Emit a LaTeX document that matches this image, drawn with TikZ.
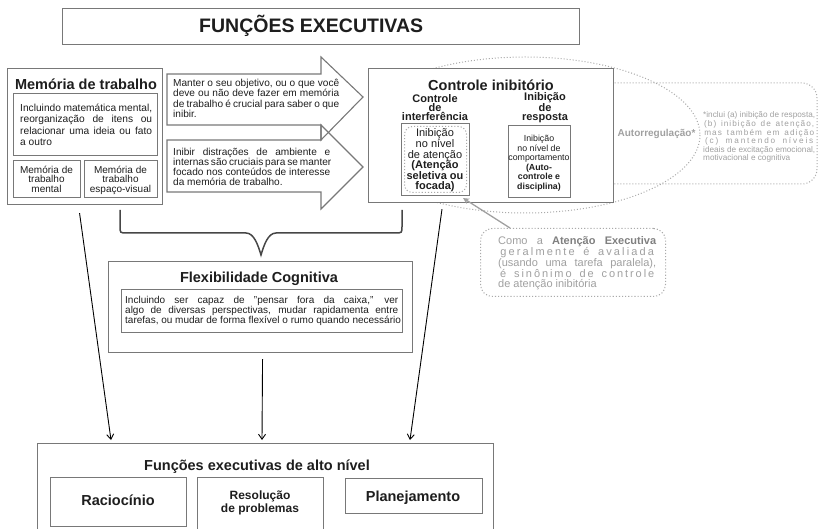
\documentclass[tikz,border=0pt]{standalone}
\usepackage{fontspec}
\setmainfont{Liberation Sans}
\usetikzlibrary{arrows.meta,calc}
\definecolor{boxgray}{RGB}{120,120,120}
\definecolor{txt}{RGB}{30,30,30}
\definecolor{ltxt}{RGB}{160,160,160}
\definecolor{dotc}{RGB}{170,170,170}
\definecolor{bracec}{RGB}{70,70,70}
\newcommand\fs[2]{\fontsize{#1}{#2}\selectfont}
\newcommand\jl[2]{\makebox[#1][s]{#2}}
\ExplSyntaxOn
\NewDocumentCommand\spr{mm}
 {
  \seq_set_split:Nnn \l_tmpa_seq {~} {#2}
  \makebox[#1]{
    \bool_set_false:N \l_tmpa_bool
    \seq_map_inline:Nn \l_tmpa_seq
     {
      \bool_if:NT \l_tmpa_bool {\hspace{0.2em~plus~3fil}}
      \bool_set_false:N \l_tmpb_bool
      \tl_map_inline:nn {##1}
       { \bool_if:NT \l_tmpb_bool {\hspace{0pt~plus~1fil}} \bool_set_true:N \l_tmpb_bool ####1 }
      \bool_set_true:N \l_tmpa_bool
     }
  }
 }
\ExplSyntaxOff
\begin{document}
\begin{tikzpicture}[x=1pt,y=-1pt,
 bx/.style={draw=boxgray,line width=1.1pt,fill=white,inner sep=0pt,anchor=north west},
 tx/.style={inner sep=0pt,text=txt,align=center,anchor=base},
 txl/.style={inner sep=0pt,text=txt,align=left,anchor=base west},
 arr/.style={-{Straight Barb[length=5pt,width=7pt]},line width=0.9pt,black},
 dots/.style={draw=dotc,line width=1pt,dotted},
 blockarrow/.style={draw=boxgray,line width=1.1pt},
]
\useasboundingbox (0,0) rectangle (819,529);
\clip (0,0) rectangle (819,529);

% title
\node[bx,minimum width=517pt,minimum height=36pt] (title) at (62,8) {};

% working memory
\node[bx,minimum width=155pt,minimum height=136pt] (mem) at (7,68) {};
\node[bx,minimum width=144pt,minimum height=62pt] (memtxt) at (13,93) {};
\node[bx,minimum width=67pt,minimum height=37pt] (memA) at (13,160) {};
\node[bx,minimum width=73pt,minimum height=37pt] (memB) at (84,160) {};

% block arrows
\draw[blockarrow] (167,74) -- (321,74) -- (321,57) -- (363,97) -- (321,140) -- (321,125) -- (167,125) -- cycle;
\draw[blockarrow] (167,140) -- (321,140) -- (321,125) -- (363,167) -- (321,209) -- (321,192) -- (167,192) -- cycle;

% self-regulation dotted shapes
\begin{scope}
\clip (420,0) rectangle (819,529);
\draw[dots] (525,135) ellipse [x radius=175, y radius=78];
\end{scope}
\draw[dots,rounded corners=15pt] (595,83) rectangle (817,184);

% inhibitory control
\node[bx,minimum width=245pt,minimum height=134pt] (ctrl) at (368,68) {};
\node[bx,minimum width=68pt,minimum height=72pt] (ctrlA) at (401,123) {};
\node[bx,draw=dotc,dotted,line width=1pt,rounded corners=8pt,minimum width=62pt,minimum height=66pt] (ctrlAi) at (404,126) {};
\node[bx,minimum width=62pt,minimum height=72pt] (ctrlB) at (508,125) {};

% executive attention note
\node[bx,draw=dotc,dotted,line width=1pt,rounded corners=12pt,minimum width=185pt,minimum height=68pt] (como) at (480,228) {};
\coordinate (gaS) at ($(como.north west)+(30,0)$);
\coordinate (gaE) at ($(ctrlA.south east)+(-7,2)$);
\draw[draw=ltxt,line width=1.3pt,-{Stealth[length=6pt,width=6pt]}] (gaS) -- (gaE);

% brace
\draw[bracec,line width=1.5pt] (120,210) -- (120,226) .. controls (120,233) .. (127,233) -- (246,233)
  .. controls (254,233) and (258,245) .. (261,255) .. controls (264,245) and (268,233) .. (276,233)
  -- (395,233) .. controls (402,233) .. (402,226) -- (402,210);

% cognitive flexibility
\node[bx,minimum width=304pt,minimum height=91pt] (flex) at (108,261) {};
\node[bx,minimum width=281pt,minimum height=43pt] (flextxt) at (121,289) {};

% higher level
\node[bx,minimum width=456pt,minimum height=110pt] (bot) at (37,443) {};
\node[bx,minimum width=136pt,minimum height=49pt] (racio) at (50,477) {};
\node[bx,minimum width=126pt,minimum height=70pt] (resol) at (197,477) {};
\node[bx,minimum width=137pt,minimum height=35pt] (plan) at (345,478) {};

% black arrows
\coordinate (a1s) at ($(mem.south)+(-5.5,8)$);
\coordinate (a1e) at ($(bot.north west)+(74,-3)$);
\coordinate (a2s) at ($(flex.south)+(2,6)$);
\coordinate (a2e) at ($(bot.north west)+(225,-3)$);
\coordinate (a3s) at ($(ctrl.south west)+(74,6)$);
\coordinate (a3e) at ($(bot.north west)+(373,-3)$);
\draw[arr] (a1s) -- (a1e);
\draw[arr] (a2s) -- (a2e);
\draw[arr] (a3s) -- (a3e);

% ---------- texts (multi-line nodes anchored at last baseline) ----------
\node[txl,font=\bfseries\fs{19.5}{22}] (tTitle) at (199,33) {FUNÇÕES EXECUTIVAS};

\node[tx,font=\bfseries\fs{14.5}{16}] (tMem) at (86,90) {Memória de trabalho};
\node[txl,font=\fs{10.2}{11.3}] (tMemTxt) at (20,145.4) {\jl{132pt}{Incluindo matemática mental,}\\\jl{132pt}{reorganização de itens ou}\\\jl{132pt}{relacionar uma ideia ou fato}\\a outro};
\node[tx,font=\fs{10}{9.3}] (tMemA) at (46.5,192.1) {Memória de\\trabalho\\mental};
\node[tx,font=\fs{10}{9.3}] (tMemB) at (120.5,192.1) {Memória de\\trabalho\\espaço-visual};

\node[txl,font=\fs{10.1}{10.3}] (tArr1) at (173,117.4) {\jl{166pt}{Manter o seu objetivo, ou o que você}\\\jl{166pt}{deve ou não deve fazer em memória}\\\jl{166pt}{de trabalho é crucial para saber o que}\\inibir.};
\node[txl,font=\fs{10.1}{10}] (tArr2) at (173,185.5) {\jl{157pt}{Inibir distrações de ambiente e}\\\jl{157pt}{internas são cruciais para se manter}\\\jl{157pt}{focado nos conteúdos de interesse}\\da memória de trabalho.};

\node[tx,font=\bfseries\fs{14.5}{16}] (tCtrl) at (491,91) {Controle inibitório};
\node[tx,font=\bfseries\fs{11}{9}] (tSubA) at (435,121) {Controle\\de\\interferência};
\node[tx,font=\bfseries\fs{11}{9}] (tSubB) at (545,121) {Inibição\\de\\resposta};
\node[tx,font=\fs{11}{10.6}] (tCtrlA) at (435,190) {Inibição\\no nível\\de atenção\\\textbf{(Atenção}\\\textbf{seletiva ou}\\\textbf{focada)}};
\node[tx,font=\fs{8.8}{9.5}] (tCtrlB) at (539,189.5) {Inibição\\no nível de\\comportamento\\\textbf{(Auto-}\\\textbf{controle e}\\\textbf{disciplina)}};

\node[tx,text=ltxt,font=\bfseries\fs{10}{11}] (tAuto) at (656.5,137) {Autorregulação*};
\node[txl,text=ltxt,font=\fs{8.2}{8.6}] (tFoot) at (703,161) {\jl{112pt}{*inclui (a) inibição de resposta,}\\\spr{112pt}{(b) inibição de atenção,}\\\spr{112pt}{mas também em adição}\\\spr{112pt}{(c) mantendo níveis}\\\jl{112pt}{ideais de excitação emocional,}\\motivacional e cognitiva};

\node[txl,text=ltxt,font=\fs{11}{10.7}] (tComo) at (498,287.8) {\jl{158pt}{Como a \textcolor{gray}{\textbf{Atenção Executiva}}}\\\spr{158pt}{geralmente é avaliada}\\\jl{158pt}{(usando uma tarefa paralela),}\\\spr{158pt}{é sinônimo de controle}\\de atenção inibitória};

\node[tx,font=\bfseries\fs{14.5}{16}] (tFlex) at (259,283) {Flexibilidade Cognitiva};
\node[txl,font=\fs{10}{10}] (tFlexTxt) at (125,323.5) {\jl{273pt}{Incluindo ser capaz de ''pensar fora da caixa,'' ver}\\\jl{273pt}{algo de diversas perspectivas, mudar rapidamenta entre}\\tarefas, ou mudar de forma flexível o rumo quando necessário};

\node[tx,font=\bfseries\fs{14.5}{16}] (tBot) at (257,470) {Funções executivas de alto nível};
\node[tx,font=\bfseries\fs{14.5}{16}] (tRacio) at (118,505) {Raciocínio};
\node[tx,font=\bfseries\fs{12}{13}] (tResol) at (260,512) {Resolução\\de problemas};
\node[tx,font=\bfseries\fs{14.5}{16}] (tPlan) at (413,501) {Planejamento};
\end{tikzpicture}
\end{document}
